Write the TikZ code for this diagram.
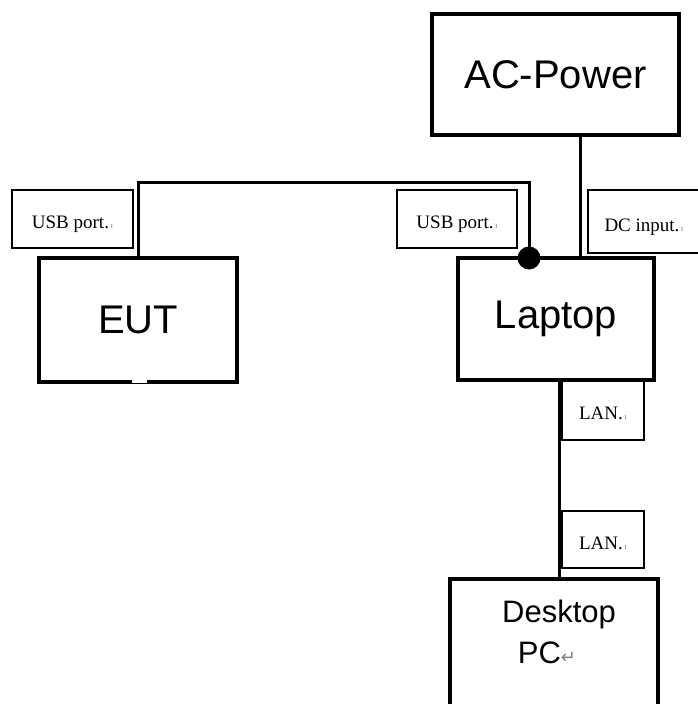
\documentclass[tikz,border=0pt]{standalone}
\usepackage{fontspec}
\setmainfont{Liberation Serif}
\newfontfamily\unitfont{Liberation Sans}
\newfontfamily\symfont{DejaVu Sans}
\newcommand{\retmark}{{\color{gray}\fontsize{9}{9}\selectfont\,ı}}
\newcommand{\enter}{{\symfont\color{gray}\fontsize{18}{18}\selectfont ↵}}

\begin{document}
\begin{tikzpicture}[x=1pt, y=-1pt,
    unit/.style={draw, line width=4pt, font=\unitfont\fontsize{40}{44}\selectfont},
    port/.style={draw, line width=1.2pt, text height=19pt, text depth=0pt,
        font=\fontsize{19}{20}\selectfont},
    cable/.style={line width=3pt}]
    \useasboundingbox (0,0) rectangle (697,704);
    \node[unit, minimum width=247pt, minimum height=121pt] (acpower) at (555.5,74.5) {AC-Power};
    \node[unit, minimum width=198pt, minimum height=124pt] (eut) at (138,320) {EUT};
    \node[unit, minimum width=196pt, minimum height=122pt] (laptop) at (556,319) {Laptop};
    \node[unit, minimum width=208pt, minimum height=140pt, anchor=north] (desktop) at (554,577) {};
    \node[font=\unitfont\fontsize{31}{41}\selectfont, align=center] (desktoptext) at (559,632) {Desktop\\PC\enter\hspace*{24pt}};
    \draw[white, line width=3pt] (132,381.5) -- (147,381.5);
    \node[port, minimum width=121pt, minimum height=58pt] (usbeut) at (72.5,219) {USB port.\retmark};
    \node[port, minimum width=120pt, minimum height=58pt] (usblaptop) at (457,219) {USB port.\retmark};
    \node[port, minimum width=112pt, minimum height=63pt] (dcinput) at (644,221.5) {DC input.\retmark};
    \node[port, minimum width=82pt, minimum height=60pt] (lanlaptop) at (603,410) {LAN.\retmark};
    \node[port, minimum width=82pt, minimum height=57pt] (lanpc) at (603,539.5) {LAN.\retmark};
    \coordinate (usbdot) at (529,258);
    \coordinate (dcjoint) at (580,258);
    \coordinate (lanjoint) at (559.5,380);
    \draw[cable] (eut.north) -- ++(0,-74) -| (usbdot);
    \fill (usbdot) circle[radius=11.5];
    \draw[cable] (acpower.south -| dcjoint) -- (dcjoint);
    \draw[cable, line width=3.5pt] (lanjoint) -- (desktop.north -| lanjoint);
\end{tikzpicture}
\end{document}
